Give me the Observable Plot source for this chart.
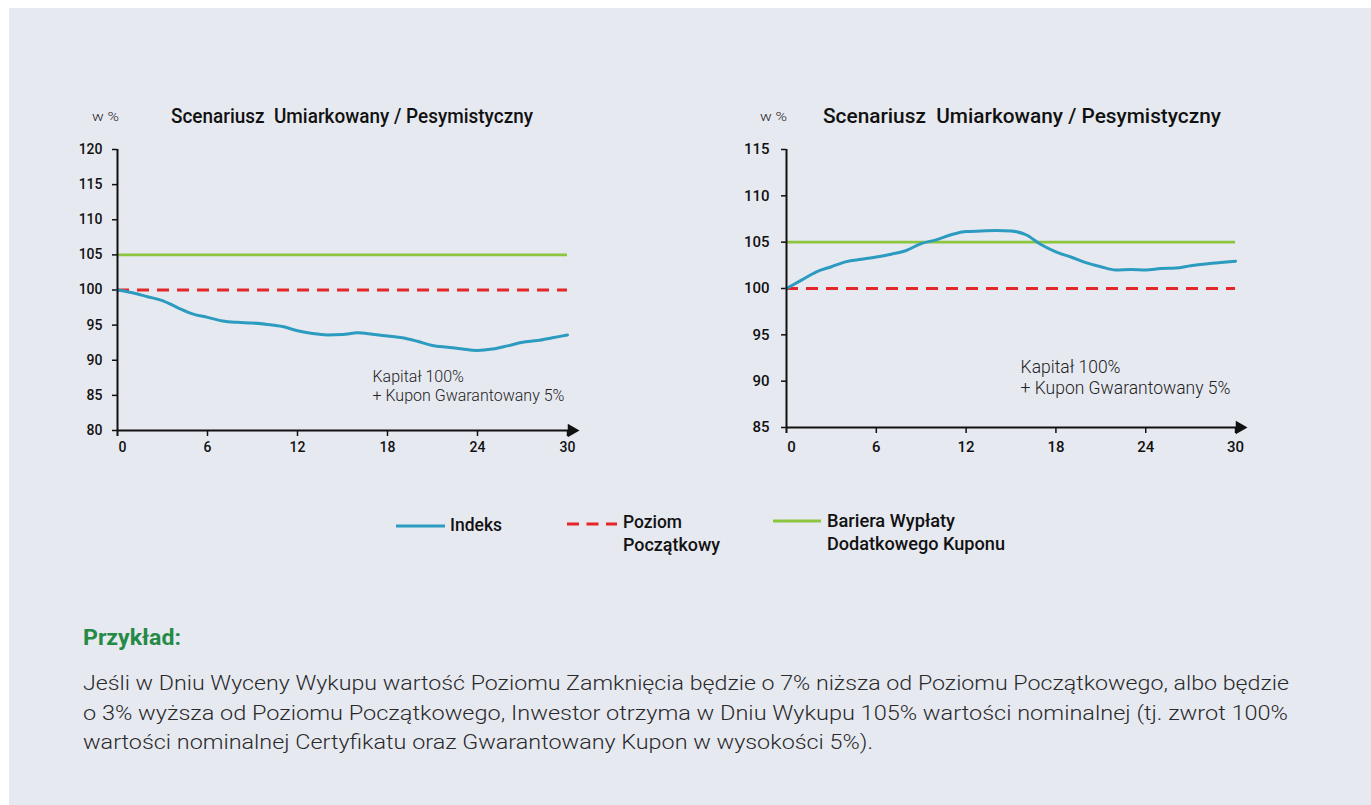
<!DOCTYPE html>
<html><head><meta charset="utf-8">
<script src="https://cdn.jsdelivr.net/npm/d3@7"></script>
<script src="https://cdn.jsdelivr.net/npm/@observablehq/plot@0.6"></script>
<style>
html,body{margin:0;padding:0;background:#fff;width:1371px;height:805px;overflow:hidden;font-family:Roboto,sans-serif}
#panel{position:absolute;left:9px;top:8px;right:0;bottom:0;background:#e7e9f1}
.chart{position:absolute}
#overlay{position:absolute;left:0;top:0}
</style></head><body>
<div id="panel"></div>
<div id="left" class="chart" style="left:57px;top:140px"></div>
<div id="right" class="chart" style="left:726px;top:140px"></div>
<svg id="overlay" width="1371" height="805"></svg>
<script>
// ---- data ----
const months = [0,1,2,3,4,5,6,7,8,9,10,11,12,13,14,15,16,17,18,19,20,21,22,23,24,25,26,27,28,29,30];
const indeksLeft = [100,99.6,99.05,98.5,97.5,96.6,96.1,95.6,95.4,95.3,95.1,94.8,94.2,93.8,93.6,93.65,93.9,93.7,93.45,93.2,92.7,92.1,91.85,91.6,91.4,91.6,92.05,92.55,92.8,93.2,93.6];
const indeksRight = [100,100.9,101.8,102.35,102.9,103.15,103.4,103.7,104.1,104.85,105.25,105.8,106.15,106.2,106.25,106.2,105.8,104.75,103.95,103.4,102.8,102.35,102.0,102.05,102.0,102.15,102.2,102.45,102.65,102.8,102.95];
const poziom = 100;
const bariera = 105;
const yTicksLeft = [80,85,90,95,100,105,110,115,120];
const yTicksRight = [85,90,95,100,105,110,115];
const xTicks = [0,6,12,18,24,30];
const noteLines = ["Kapitał 100%", "+ Kupon Gwarantowany 5%"];
const chartTitle = "Scenariusz  Umiarkowany / Pesymistyczny";
const unitLabel = "w %";
const legendLabels = [["Indeks"], ["Poziom", "Początkowy"], ["Bariera Wypłaty", "Dodatkowego Kuponu"]];
const exampleTitle = "Przykład:";
const exampleLines = [
  "Jeśli w Dniu Wyceny Wykupu wartość Poziomu Zamknięcia będzie o 7% niższa od Poziomu Początkowego, albo będzie",
  "o 3% wyższa od Poziomu Początkowego, Inwestor otrzyma w Dniu Wykupu 105% wartości nominalnej (tj. zwrot 100%",
  "wartości nominalnej Certyfikatu oraz Gwarantowany Kupon w wysokości 5%)."
];

// ---- styles ----
const colors = {indeks:"#2b9bbf", poziom:"#e52629", bariera:"#8cc63f", axis:"#111"};
const arrowHead = { draw(ctx, size){ const r = Math.sqrt(size/Math.PI); ctx.moveTo(-r,-1.35*r); ctx.lineTo(1.35*r,0); ctx.lineTo(-r,1.35*r); ctx.closePath(); } };

function chart(o) {
  const rows = months.map((m,i)=>({m, v: o.values[i]}));
  const x0 = d3.min(months), x1 = d3.max(months);
  const yMin = d3.min(o.yTicks), yMax = d3.max(o.yTicks);
  const arrowX = x1 + 0.35;
  return Plot.plot({
    width: o.width, height: o.height, marginLeft: 60, marginRight: o.marginRight, marginTop: 9, marginBottom: 35,
    style: {fontFamily:"Roboto", fontSize: o.fontSize+"px", fontWeight: 500, color:"#111", background:"transparent", overflow:"visible"},
    x: {domain:[x0, x1+1], label:null},
    y: {domain:[yMin,yMax], label:null},
    marks: [
      Plot.axisY({ticks: o.yTicks, tickSize:5, tickPadding: o.tickPadY, strokeWidth:1.5, label:null}),
      Plot.axisX({ticks: xTicks.filter(t=>t!==x0), tickSize:6, tickPadding: o.tickPadX, strokeWidth:1.5, label:null}),
      Plot.axisX({ticks: [x0], tickSize:0, tickPadding: o.tickPadX+6, dx: 5, label:null}),
      Plot.ruleY([bariera], {x1:x0, x2:x1, stroke: colors.bariera, strokeWidth:2.8}),
      Plot.ruleY([poziom], {x1:x0, x2:x1, stroke: colors.poziom, strokeWidth:2.8, strokeDasharray:"12,8"}),
      Plot.line(rows, {x:"m", y:"v", stroke: colors.indeks, strokeWidth:3, curve:"monotone-x"}),
      Plot.ruleX([x0], {stroke: colors.axis, strokeWidth: 2, insetBottom: -6}),
      Plot.ruleY([yMin], {x1:x0, x2:arrowX, stroke: colors.axis, strokeWidth:2}),
      Plot.dot([{x:arrowX, y:yMin}], {x:"x", y:"y", symbol: arrowHead, r:5, fill: colors.axis, stroke:null}),
      Plot.text([o.note], {x:"x", y:"y", text: () => noteLines.join("\n"), textAnchor:"start", lineAnchor:"top",
        fontSize: o.noteSize, fontWeight:300, lineHeight: o.noteLH, fill:"#222"})
    ]
  });
}

document.getElementById("left").append(chart({values: indeksLeft, yTicks: yTicksLeft, width: 540, height: 325, marginRight: 15,
  fontSize: 14, tickPadY: 10, tickPadX: 6, note: {x: 17, y: 88.7}, noteSize: 16, noteLH: 1.15}));
document.getElementById("right").append(chart({values: indeksRight, yTicks: yTicksRight, width: 540, height: 322, marginRight: 16,
  fontSize: 15, tickPadY: 12, tickPadX: 8, note: {x: 15.64, y: 92.45}, noteSize: 17.5, noteLH: 1.18}));

// ---- overlay texts & legend ----
const ov = d3.select("#overlay");
function txt(s, x, y, size, weight, fill, w) {
  const t = ov.append("text").attr("x", x).attr("y", y).attr("font-size", size).attr("font-weight", weight)
    .attr("fill", fill).attr("font-family", "Roboto").style("white-space", "pre").text(s);
  if (w) t.attr("textLength", w).attr("lengthAdjust", "spacingAndGlyphs");
  return t;
}
// unit labels and titles
txt(unitLabel, 92, 121, 13, 300, "#222", 27);
txt(unitLabel, 760, 121, 13, 300, "#222", 27);
txt(chartTitle, 171, 123, 19.5, 500, "#111", 362);
txt(chartTitle, 823, 123, 21, 500, "#111", 398);

// legend
ov.append("line").attr("x1", 396).attr("x2", 445).attr("y1", 526).attr("y2", 526).attr("stroke", colors.indeks).attr("stroke-width", 3);
txt(legendLabels[0][0], 450, 530.5, 18, 500, "#111", 52);
ov.append("line").attr("x1", 567).attr("x2", 617).attr("y1", 524).attr("y2", 524).attr("stroke", colors.poziom).attr("stroke-width", 3).attr("stroke-dasharray", "12,7.5");
txt(legendLabels[1][0], 623, 528, 18, 500, "#111", 59);
txt(legendLabels[1][1], 623, 551, 18, 500, "#111", 97);
ov.append("line").attr("x1", 773).attr("x2", 821).attr("y1", 521).attr("y2", 521).attr("stroke", colors.bariera).attr("stroke-width", 3);
txt(legendLabels[2][0], 827, 527, 18, 500, "#111", 128);
txt(legendLabels[2][1], 827, 550, 18, 500, "#111", 178);

// example text
txt(exampleTitle, 83, 645, 22, 700, "#248a45", 98);
const lineW = [1206, 1205, 790];
const lineY = [690, 719.5, 748.5];
exampleLines.forEach((s, i) => txt(s, 83, lineY[i], 21, 300, "#2a2a2a", lineW[i]));
</script>
</body></html>
